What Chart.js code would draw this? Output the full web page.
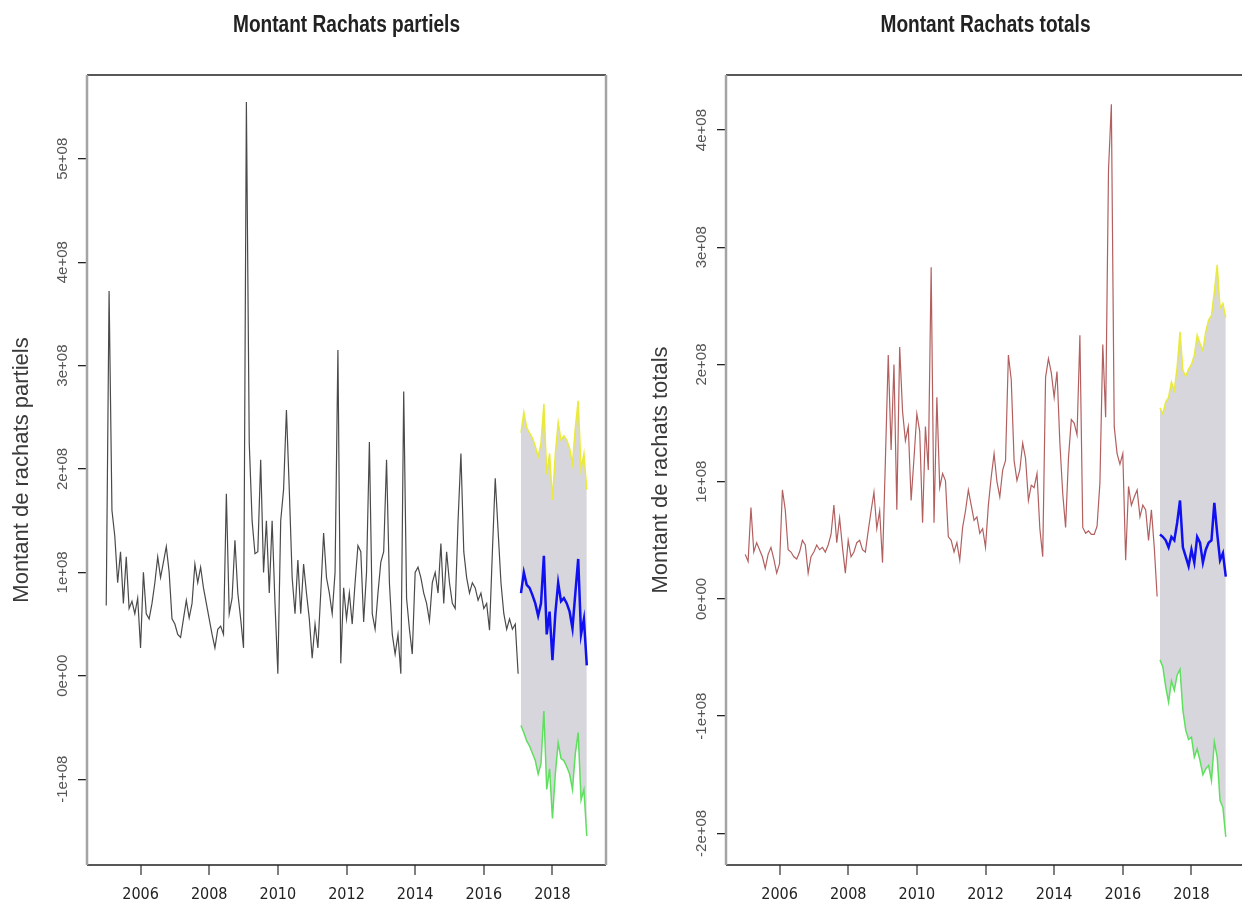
<!DOCTYPE html>
<html>
<head>
<meta charset="utf-8">
<title>Montant Rachats</title>
<script src="https://cdn.jsdelivr.net/npm/chart.js@4.4.1/dist/chart.umd.min.js"></script>
<style>
  html, body { margin:0; padding:0; background:#fff; overflow:hidden; width:1242px; height:917px; }
  .panel { position:absolute; top:0; width:640px; height:917px; }
  #leftPanel { left:-18px; }
  #rightPanel { left:621px; }
</style>
</head>
<body>
<div class="panel" id="leftPanel"><canvas id="partielsChart" width="640" height="917"></canvas></div>
<div class="panel" id="rightPanel"><canvas id="totalsChart" width="640" height="917"></canvas></div>
<script>
/* monthly series, values in millions (1e+06) */
var HIST_START = 2005;          // Jan 2005
var FC_START   = 2017 + 1/12;   // Feb 2017, 24 months

var X_TICKS = [2006, 2008, 2010, 2012, 2014, 2016, 2018];

var PARTIELS_Y_TICKS  = [-100, 0, 100, 200, 300, 400, 500];
var PARTIELS_Y_LABELS = ["-1e+08", "0e+00", "1e+08", "2e+08", "3e+08", "4e+08", "5e+08"];
var TOTALS_Y_TICKS    = [-200, -100, 0, 100, 200, 300, 400];
var TOTALS_Y_LABELS   = ["-2e+08", "-1e+08", "0e+00", "1e+08", "2e+08", "3e+08", "4e+08"];

var PARTIELS_HIST = [
  68, 372, 160, 135, 90, 120, 70, 115, 65, 72, 60, 75,
  27, 100, 60, 55, 70, 90, 115, 95, 110, 125, 100, 55,
  50, 40, 37, 55, 73, 56, 70, 108, 90, 105, 85, 70,
  55, 40, 27, 45, 48, 40, 176, 60, 75, 131, 80, 55,
  27, 555, 225, 150, 118, 120, 209, 100, 150, 80, 150, 70,
  2, 150, 180, 257, 180, 95, 60, 112, 60, 108, 80, 55,
  17, 50, 27, 80, 138, 95, 80, 60, 100, 315, 12, 85,
  55, 80, 50, 90, 126, 120, 52, 100, 226, 60, 45, 80,
  110, 120, 209, 90, 40, 21, 40, 2, 275, 75, 45, 21,
  100, 105, 95, 80, 70, 53, 90, 100, 80, 128, 70, 120,
  90, 70, 65, 150, 215, 120, 95, 80, 90, 85, 73, 80,
  65, 70, 44, 120, 191, 140, 90, 60, 45, 55, 45, 50,
  2
];
var PARTIELS_MEAN = [80, 100, 88, 85, 78, 70, 58, 70, 116, 40, 62, 15, 60, 90, 72, 75, 70, 62, 46, 80, 113, 40, 55, 10];
var PARTIELS_UP   = [235, 255, 240, 235, 230, 222, 212, 225, 263, 195, 215, 170, 215, 245, 228, 232, 228, 220, 205, 240, 266, 200, 215, 180];
var PARTIELS_LOW  = [-48, -55, -63, -68, -75, -82, -95, -85, -34, -110, -90, -138, -95, -65, -80, -82, -88, -95, -110, -75, -55, -120, -110, -155];

var TOTALS_HIST = [
  38, 32, 78, 40, 48, 42, 36, 26, 38, 44, 34, 22,
  30, 93, 76, 42, 40, 36, 34, 40, 50, 46, 22, 36,
  40, 46, 42, 44, 40, 46, 55, 80, 48, 69, 44, 22,
  50, 36, 40, 48, 50, 42, 40, 58, 75, 91, 60, 75,
  31, 118, 208, 127, 200, 76, 215, 160, 135, 147, 84, 120,
  158, 143, 65, 147, 110, 283, 65, 172, 95, 107, 101, 53,
  50, 40, 48, 33, 61, 75, 93, 80, 67, 70, 56, 60,
  44, 80, 104, 124, 100, 87, 110, 118, 208, 187, 118, 101,
  110, 133, 120, 84, 97, 95, 107, 60, 36, 189, 205, 193,
  172, 194, 133, 90, 61, 120, 153, 150, 140, 225, 61, 56,
  58, 55, 55, 62, 99, 217, 155, 366, 422, 147, 124, 115,
  124, 33, 96, 80, 87, 93, 70, 80, 76, 50, 76, 44,
  2
];
var TOTALS_MEAN = [55, 53, 50, 44, 53, 50, 65, 84, 44, 36, 28, 42, 31, 53, 48, 31, 42, 48, 50, 82, 56, 33, 39, 19];
var TOTALS_UP   = [163, 158, 168, 172, 185, 178, 198, 228, 195, 190, 196, 200, 208, 225, 218, 212, 228, 238, 242, 262, 285, 248, 252, 240];
var TOTALS_LOW  = [-52, -58, -75, -88, -70, -78, -65, -60, -95, -112, -120, -118, -135, -128, -138, -150, -145, -142, -155, -122, -135, -172, -178, -203];

/* helpers */
function monthly(arr, start){
  return arr.map(function(v, i){ return { x: start + i/12, y: v }; });
}

var NARROW = "'Liberation Sans Narrow', 'DejaVu Sans Condensed', sans-serif";
var SANS   = "'Liberation Sans', Arial, sans-serif";

// box round the plot + main title (narrow bold, like R's png output squeezed)
var panelDecor = {
  id: "panelDecor",
  afterDatasetsDraw: function(chart, args, opts){
    var a = chart.chartArea, ctx = chart.ctx;
    ctx.save();
    ctx.strokeStyle = "#222"; ctx.lineWidth = 1.5;
    ctx.beginPath();
    ctx.moveTo(a.left, a.top); ctx.lineTo(a.right, a.top);
    ctx.moveTo(a.left, a.bottom); ctx.lineTo(a.right, a.bottom);
    ctx.stroke();
    ctx.strokeStyle = "#a4a4a4"; ctx.lineWidth = 2.5;
    ctx.beginPath();
    ctx.moveTo(a.left, a.top); ctx.lineTo(a.left, a.bottom);
    ctx.moveTo(a.right, a.top); ctx.lineTo(a.right, a.bottom);
    ctx.stroke();
    ctx.restore();

    ctx.save();
    ctx.translate((a.left + a.right)/2, opts.y);
    ctx.scale(0.83, 1);
    ctx.fillStyle = "#222";
    ctx.font = "bold 23px " + SANS;
    ctx.textAlign = "center"; ctx.textBaseline = "middle";
    ctx.fillText(opts.text, 0, 0);
    ctx.restore();
  }
};

function makePanel(id, p){
  var ctx = document.getElementById(id).getContext("2d");
  return new Chart(ctx, {
    type: "line",
    data: {
      datasets: [
        { label: "Prévision", data: monthly(p.mean, FC_START), borderColor: "#1010f0", borderWidth: 2.5, pointRadius: 0, fill: false },
        { label: "Borne haute", data: monthly(p.up, FC_START), borderColor: "#eaea3c", borderWidth: 1.5, pointRadius: 0,
          fill: "+1", backgroundColor: "#d6d6dc" },
        { label: "Borne basse", data: monthly(p.low, FC_START), borderColor: "#5ee05e", borderWidth: 1.5, pointRadius: 0, fill: false },
        { label: "Historique", data: monthly(p.hist, HIST_START), borderColor: p.histColor, borderWidth: 1.2, pointRadius: 0, fill: false }
      ]
    },
    options: {
      responsive: false,
      animation: false,
      layout: { padding: { top: 75, right: 16, left: 0, bottom: 0 } },
      plugins: {
        legend: { display: false },
        tooltip: { enabled: false },
        filler: { drawTime: "beforeDatasetsDraw" },
        panelDecor: { text: p.title, y: 26 }
      },
      scales: {
        x: {
          type: "linear", min: 2004.44, max: 2019.56,
          afterBuildTicks: function(s){ s.ticks = X_TICKS.map(function(v){ return { value: v }; }); },
          afterFit: function(s){ s.height = 52; },
          grid: { drawOnChartArea: false, drawTicks: true, tickLength: 10, tickColor: "#808080", lineWidth: 2 },
          border: { display: false },
          ticks: { padding: 10, color: "#222", autoSkip: false, maxRotation: 0,
                   font: { family: NARROW, size: 16 },
                   callback: function(v){ return String(v); } }
        },
        y: {
          min: p.yMin, max: p.yMax,
          afterBuildTicks: function(s){ s.ticks = p.yTicks.map(function(v){ return { value: v }; }); },
          afterFit: function(s){ s.width = 105; },
          grid: { drawOnChartArea: false, drawTicks: true, tickLength: 9, tickColor: "#222", lineWidth: 1.3 },
          border: { display: false },
          ticks: { minRotation: 90, maxRotation: 90, crossAlign: "center", padding: -8, color: "#555",
                   font: { family: SANS, size: 15 },
                   callback: function(v, i){ return p.yLabels[i]; } },
          title: { display: true, text: p.yTitle, color: "#3a3a3a",
                   font: { family: SANS, size: 22 }, padding: { top: 27, bottom: 0 } }
        }
      }
    },
    plugins: [panelDecor]
  });
}

makePanel("partielsChart", {
  title: "Montant Rachats partiels", yTitle: "Montant de rachats partiels",
  hist: PARTIELS_HIST, mean: PARTIELS_MEAN, up: PARTIELS_UP, low: PARTIELS_LOW,
  histColor: "#4a4a4a", yMin: -183, yMax: 581,
  yTicks: PARTIELS_Y_TICKS, yLabels: PARTIELS_Y_LABELS
});

makePanel("totalsChart", {
  title: "Montant Rachats totals", yTitle: "Montant de rachats totals",
  hist: TOTALS_HIST, mean: TOTALS_MEAN, up: TOTALS_UP, low: TOTALS_LOW,
  histColor: "#b35f5f", yMin: -227, yMax: 447,
  yTicks: TOTALS_Y_TICKS, yLabels: TOTALS_Y_LABELS
});
</script>
</body>
</html>
